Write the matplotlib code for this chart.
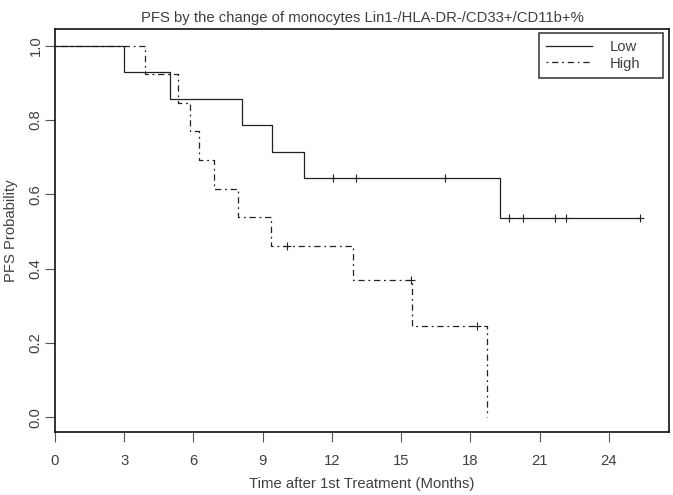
import matplotlib
matplotlib.use("Agg")
import matplotlib.pyplot as plt
from matplotlib.lines import Line2D

# Kaplan-Meier steps (months, PFS probability)
low_t = [0, 3.0, 5.0, 8.12, 9.41, 10.81, 19.26, 25.34]
low_s = [1.0, 0.929, 0.857, 0.786, 0.714, 0.643, 0.536, 0.536]
low_cens_t = [12.06, 13.05, 16.9, 19.66, 20.27, 21.66, 22.12, 25.34]
low_cens_s = [0.643, 0.643, 0.643, 0.536, 0.536, 0.536, 0.536, 0.536]

high_t = [0, 3.9, 5.34, 5.83, 6.23, 6.89, 7.92, 9.38, 12.89, 15.48, 18.71]
high_s = [1.0, 0.923, 0.846, 0.769, 0.692, 0.615, 0.538, 0.462, 0.369, 0.246, 0.0]
high_cens_t = [10.07, 15.43, 18.3]
high_cens_s = [0.462, 0.369, 0.246]

xticks = [0, 3, 6, 9, 12, 15, 18, 21, 24]
yticks = [0.0, 0.2, 0.4, 0.6, 0.8, 1.0]

plt.rcParams['font.family'] = ['Liberation Sans', 'DejaVu Sans']
fs = 10.7
txt = '#404040'
line_col = '#222222'
dotdash = (0, (1.5, 3, 5, 3))

fig = plt.figure(figsize=(6.73, 4.95), dpi=100)
ax = fig.add_axes([0.0817, 0.1273, 0.9123, 0.8135])

ax.step(low_t, low_s, where='post', color=line_col, lw=0.9)
ax.plot(low_cens_t, low_cens_s, ls='none', marker='+', ms=6, mew=0.8, color=line_col)

ax.step(high_t, high_s, where='post', color=line_col, lw=0.9, linestyle=dotdash)
ax.plot(high_cens_t, high_cens_s, ls='none', marker='+', ms=6, mew=0.8, color=line_col)

ax.set_xlim(0, 26.6)
ax.set_ylim(-0.04, 1.044)
ax.set_xticks(xticks)
ax.set_xticklabels([str(v) for v in xticks])
ax.set_yticks(yticks)
ax.set_yticklabels(['%.1f' % v for v in yticks], rotation=90, va='center')
ax.tick_params(direction='out', length=7, width=0.8, colors='#555555',
               labelcolor=txt, labelsize=fs)
ax.tick_params(axis='x', pad=8.9)
ax.tick_params(axis='y', pad=1.8)
for s in ax.spines.values():
    s.set_color('#111111')
    s.set_linewidth(1.2)

ax.set_xlabel('Time after 1st Treatment (Months)', fontsize=fs, color=txt, labelpad=6.3)
ax.set_ylabel('PFS Probability', fontsize=fs, color=txt, labelpad=7.8)
ax.set_title('PFS by the change of monocytes Lin1-/HLA-DR-/CD33+/CD11b+%',
             fontsize=fs, color=txt, pad=5)

handles = [Line2D([], [], color=line_col, lw=0.9),
           Line2D([], [], color=line_col, lw=0.9, linestyle=dotdash)]
leg = ax.legend(handles, ['Low', 'High'], loc='upper right', fontsize=fs,
                bbox_to_anchor=(0.788, 0.869, 0.202, 0.122), mode='expand',
                frameon=True, fancybox=False, edgecolor='#111111',
                borderaxespad=0, handlelength=3.1, handletextpad=1.2,
                labelspacing=0.15, borderpad=0.5, labelcolor=txt)
leg.get_frame().set_linewidth(1.2)

fig.savefig('out.png', dpi=100)
